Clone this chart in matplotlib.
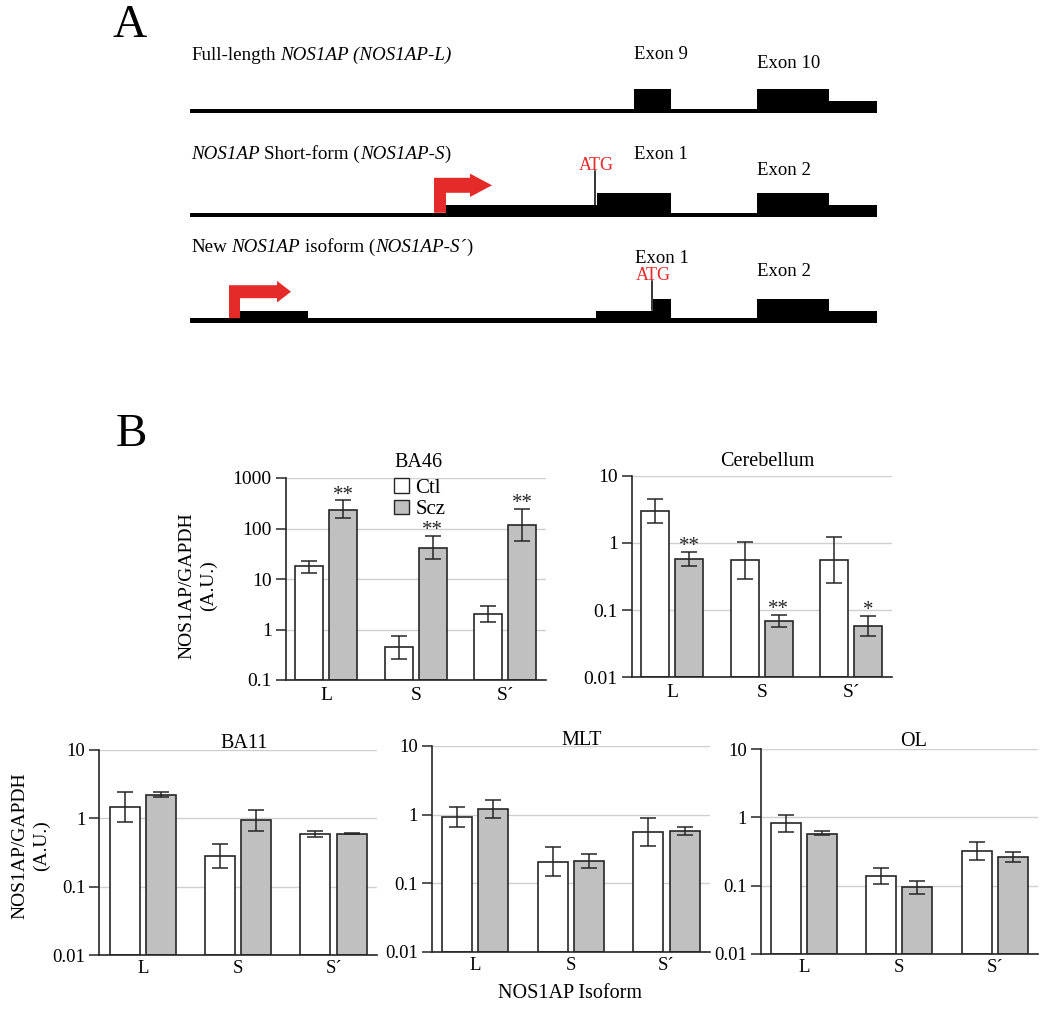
import numpy as np
import matplotlib
matplotlib.use('Agg')
import matplotlib.pyplot as plt
from matplotlib.patches import Rectangle, Polygon, Patch

plt.rcParams['font.family'] = ['Liberation Serif', 'DejaVu Serif']

# ---------------- data: panel B (NOS1AP/GAPDH, A.U.) ----------------
isoforms = ['L', 'S', 'S\u00b4']
regions = ['BA46', 'Cerebellum', 'BA11', 'MLT', 'OL']

ctl_mean = [[17.7, 0.445, 2.07], [3.01, 0.55, 0.562], [1.46, 0.286, 0.60],
            [0.925, 0.206, 0.565], [0.828, 0.14, 0.322]]
ctl_lo = [[13.1, 0.261, 1.40], [2.0, 0.293, 0.256], [0.88, 0.189, 0.537],
          [0.66, 0.126, 0.349], [0.61, 0.107, 0.238]]
ctl_hi = [[23.0, 0.746, 2.98], [4.46, 1.03, 1.24], [2.42, 0.428, 0.664],
          [1.29, 0.337, 0.895], [1.10, 0.18, 0.436]]

scz_mean = [[236, 42, 117], [0.575, 0.0689, 0.058], [2.21, 0.94, 0.60],
            [1.22, 0.211, 0.578], [0.576, 0.095, 0.263]]
scz_lo = [[161, 24.8, 56.5], [0.458, 0.056, 0.0407], [2.04, 0.664, 0.59],
          [0.895, 0.167, 0.499], [0.552, 0.075, 0.22]]
scz_hi = [[360, 72, 244], [0.73, 0.0846, 0.0826], [2.41, 1.35, 0.61],
          [1.66, 0.27, 0.668], [0.625, 0.118, 0.311]]

scz_stars = [['**', '**', '**'], ['**', '**', '*'], None, None, None]
ylims = [(0.1, 1000), (0.01, 10), (0.01, 10), (0.01, 10), (0.01, 10)]

# ---------------- data: panel A (gene models, diagram units) ----------------
row_titles = [
    [('Full-length', 'normal', 0), ('NOS1AP (NOS1AP-L)', 'italic', 3.4)],
    [('NOS1AP', 'italic', 0), ('Short-form (', 'normal', 3.4), ('NOS1AP-S', 'italic', 0), (')', 'normal', 0)],
    [('New', 'normal', 0), ('NOS1AP', 'italic', 3.4), ('isoform (', 'normal', 3.4), ('NOS1AP-S\u00b4', 'italic', 0), (')', 'normal', 0)],
]
gene_span = (190, 877)
row_blocks = [
    [(634, 671, 'cds'), (757, 829, 'cds'), (829, 877, 'utr')],
    [(446, 597, 'utr'), (597, 671, 'cds'), (757, 829, 'cds'), (829, 877, 'utr')],
    [(240, 308, 'utr'), (596, 653, 'utr'), (653, 671, 'cds'), (757, 829, 'cds'), (829, 877, 'utr')],
]
row_exon_labels = [
    [('Exon 9', 634, 59), ('Exon 10', 757, 68)],
    [('Exon 1', 634, 159), ('Exon 2', 757, 175)],
    [('Exon 1', 635, 263), ('Exon 2', 757, 276.5)],
]
atg_sites = [None, (595, 170, 206), (652, 280, 310)]
tss_arrows = [None,
              dict(x=434, h=35, stem=12, arm=36, arm_w=15, head=22, head_w=11.7),
              dict(x=229, h=33, stem=11, arm=48, arm_w=13, head=14, head_w=10.8)]

# ---------------- layout (pixels) ----------------
W, H = 1050, 1010
row_base = [113.3, 217.3, 322.7]
row_title_y = [60, 159, 252]
block_h = {'cds': 24, 'utr': 12}
line_h = 4.5
panel_px = [(285.5, 546, 478, 680), (631.7, 891.7, 475.7, 677.3),
            (99.3, 377, 750, 955.3), (431.7, 710, 746, 952), (760.7, 1038, 749, 954)]
title_x = [0.51, 0.52, 0.52, 0.54, 0.55]
title_dy = [8.0, 7.2, 1.2, 0.8, 1.8]
red = '#e52a2a'
gray = '#c0c0c0'
dark = '#262626'

fig = plt.figure(figsize=(W / 100, H / 100), dpi=100)
bg = fig.add_axes([0, 0, 1, 1])
bg.set_xlim(0, W)
bg.set_ylim(H, 0)
bg.axis('off')


def rich_text(ax, x, y, parts, size):
    t = ax.text(x, y, parts[0][0], style=parts[0][1], ha='left', va='baseline', fontsize=size)
    for s, st, gap in parts[1:]:
        t = ax.annotate(s, xy=(1, 0), xycoords=t, xytext=(gap, 0), textcoords='offset points',
                        style=st, ha='left', va='bottom', fontsize=size)


# ---- panel A ----
bg.text(129.5, 37, 'A', fontsize=34, ha='center', va='baseline')
for i in range(3):
    base = row_base[i]
    rich_text(bg, 191, row_title_y[i], row_titles[i], 13.7)
    bg.add_patch(Rectangle((gene_span[0], base - line_h), gene_span[1] - gene_span[0], line_h,
                           color='black', lw=0))
    for x0, x1, kind in row_blocks[i]:
        bg.add_patch(Rectangle((x0, base - block_h[kind]), x1 - x0, block_h[kind], color='black', lw=0))
    for lab, x, y in row_exon_labels[i]:
        bg.text(x, y, lab, fontsize=13.5, ha='left', va='baseline')
    if atg_sites[i]:
        ax_, top, bot = atg_sites[i]
        bg.plot([ax_, ax_], [top + 1, bot], color='black', lw=1.1)
        bg.text(ax_ + 1, top, 'ATG', color=red, fontsize=13, ha='center', va='baseline')
    a = tss_arrows[i]
    if a:
        b0 = base - line_h
        top = b0 - a['h']
        yc = top + a['arm_w'] / 2
        xh = a['x'] + a['arm']
        verts = [(a['x'], b0), (a['x'], top), (xh, top), (xh, yc - a['head_w']),
                 (xh + a['head'], yc), (xh, yc + a['head_w']), (xh, top + a['arm_w']),
                 (a['x'] + a['stem'], top + a['arm_w']), (a['x'] + a['stem'], b0)]
        bg.add_patch(Polygon(verts, closed=True, color=red, lw=0))

# ---- panel B ----
bg.text(131, 446, 'B', fontsize=34, ha='center', va='baseline')
x = np.arange(len(isoforms))
off, bw = 0.19, 0.315
for k, name in enumerate(regions):
    x0, x1, y0, y1 = panel_px[k]
    ax = fig.add_axes([x0 / W, 1 - y1 / H, (x1 - x0) / W, (y1 - y0) / H])
    lo_lim, hi_lim = ylims[k]
    ax.set_yscale('log')
    ax.set_ylim(lo_lim, hi_lim)
    ax.set_xlim(-0.455, 2.455)
    cm, sm = np.array(ctl_mean[k]), np.array(scz_mean[k])
    ax.bar(x - off, cm - lo_lim, bottom=lo_lim, width=bw, color='white', edgecolor=dark, lw=1.2,
           zorder=2, label='Ctl')
    ax.bar(x + off, sm - lo_lim, bottom=lo_lim, width=bw, color=gray, edgecolor=dark, lw=1.2,
           zorder=2, label='Scz')
    ax.errorbar(x - off, cm, yerr=[cm - np.array(ctl_lo[k]), np.array(ctl_hi[k]) - cm], fmt='none',
                ecolor=dark, elinewidth=1.1, capsize=5.5, capthick=1.1, zorder=3)
    ax.errorbar(x + off, sm, yerr=[sm - np.array(scz_lo[k]), np.array(scz_hi[k]) - sm], fmt='none',
                ecolor=dark, elinewidth=1.1, capsize=5.5, capthick=1.1, zorder=3)
    if scz_stars[k]:
        for j, s in enumerate(scz_stars[k]):
            ax.annotate(s, xy=(x[j] + off, scz_hi[k][j]), xytext=(0, 0.5), textcoords='offset points',
                        ha='center', va='baseline', fontsize=15, color=dark)
    ticks = [10.0 ** p for p in range(int(np.log10(lo_lim)), int(np.log10(hi_lim)) + 1)]
    ax.set_yticks(ticks)
    ax.set_yticklabels([f'{t:g}' for t in ticks])
    ax.yaxis.set_minor_locator(matplotlib.ticker.NullLocator())
    ax.set_xticks(x)
    ax.set_xticklabels(isoforms)
    fs = 14 if k < 2 else 13.5
    ax.tick_params(axis='y', direction='out', length=7, width=1.1, color=dark, pad=3, labelsize=fs)
    ax.tick_params(axis='x', length=0, pad=5 if k < 2 else 3.5, labelsize=fs)
    ax.yaxis.grid(True, color='#cfcfcf', lw=1)
    ax.set_axisbelow(True)
    for sp in ['top', 'right']:
        ax.spines[sp].set_visible(False)
    for sp in ['left', 'bottom']:
        ax.spines[sp].set_color(dark)
        ax.spines[sp].set_linewidth(1.2)
    ax.annotate(name, xy=(title_x[k], 1), xycoords='axes fraction', xytext=(0, title_dy[k]),
                textcoords='offset points', ha='center', va='baseline', fontsize=14.5)
    if k == 0:
        ax.legend(handles=[Patch(facecolor='white', edgecolor=dark, lw=1), Patch(facecolor=gray, edgecolor=dark, lw=1)],
                  labels=['Ctl', 'Scz'], loc='upper left', bbox_to_anchor=(0.415, 1.0), frameon=False,
                  borderpad=0, borderaxespad=0, handlelength=0.75, handleheight=0.7, handletextpad=0.3,
                  labelspacing=0.1, fontsize=15)

bg.text(197.5, 586, 'NOS1AP/GAPDH\n(A.U.)', rotation=90, ha='center', va='center', fontsize=14,
        linespacing=1.3)
bg.text(30.5, 846, 'NOS1AP/GAPDH\n(A.U.)', rotation=90, ha='center', va='center', fontsize=14,
        linespacing=1.35)
bg.text(570, 993, 'NOS1AP Isoform', ha='center', va='center', fontsize=14.5)

fig.savefig('out.png', dpi=100)
